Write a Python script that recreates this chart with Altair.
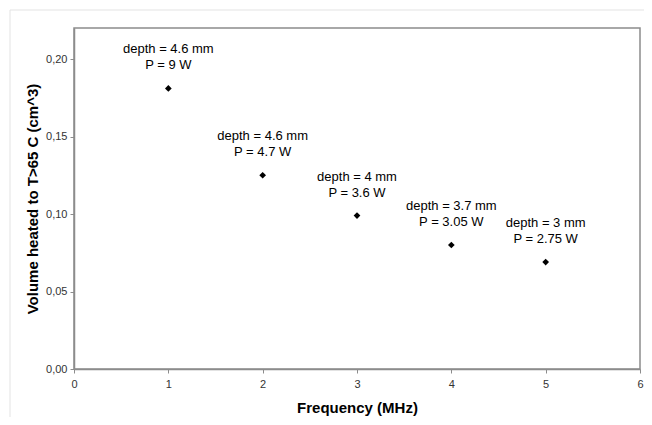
import altair as alt
import pandas as pd

freq = [1, 2, 3, 4, 5]
volume = [0.181, 0.125, 0.099, 0.080, 0.069]
depth_labels = ["depth = 4.6 mm", "depth = 4.6 mm", "depth = 4 mm", "depth = 3.7 mm", "depth = 3 mm"]
power_labels = ["P = 9 W", "P = 4.7 W", "P = 3.6 W", "P = 3.05 W", "P = 2.75 W"]

df = pd.DataFrame({"freq": freq, "volume": volume, "depth": depth_labels, "power": power_labels})

FONT = "Liberation Sans"
GRAY = "#8c8c8c"

x_enc = alt.X("freq:Q", scale=alt.Scale(domain=[0, 6], nice=False),
              axis=alt.Axis(title="Frequency (MHz)", values=[0, 1, 2, 3, 4, 5, 6], format="d",
                            labelFlush=False))
y_enc = alt.Y("volume:Q", scale=alt.Scale(domain=[0, 0.22], nice=False),
              axis=alt.Axis(title="Volume heated to T>65 C (cm^3)", values=[0, 0.05, 0.1, 0.15, 0.2],
                            labelExpr="replace(format(datum.value, '.2f'), '.', ',')"))

base = alt.Chart(df)

points = base.mark_point(shape="diamond", filled=True, color="black", size=45, opacity=1).encode(
    x=x_enc, y=y_enc
)

line1 = base.mark_text(font=FONT, fontSize=13, color="black", dy=-39, baseline="middle").encode(
    x="freq:Q", y="volume:Q", text="depth:N"
)
line2 = base.mark_text(font=FONT, fontSize=13, color="black", dy=-23, baseline="middle").encode(
    x="freq:Q", y="volume:Q", text="power:N"
)

# light outer frame of the figure
frame_top = alt.Chart(pd.DataFrame({"k": [0]})).mark_rule(color="#e3e3e3", strokeWidth=1, clip=False).encode(
    x=alt.value(-64), x2=alt.value(570), y=alt.value(-18)
)
frame_left = alt.Chart(pd.DataFrame({"k": [0]})).mark_rule(color="#e3e3e3", strokeWidth=1, clip=False).encode(
    x=alt.value(-64), y=alt.value(-18), y2=alt.value(389)
)

chart = alt.layer(frame_top, frame_left, points, line1, line2).properties(
    width=566, height=341,
    autosize=alt.AutoSizeParams(type="none"),
    padding={"left": 66, "top": 20, "right": 4, "bottom": 48},
).configure_view(
    stroke=GRAY, strokeWidth=1.5
).configure_axis(
    grid=False,
    domainColor=GRAY, domainWidth=1.5,
    tickColor=GRAY, tickSize=4, tickWidth=1,
    labelFont=FONT, labelFontSize=11, labelColor="#333333",
    titleFont=FONT, titleFontSize=15, titleFontWeight="bold", titleColor="black",
).configure_axisX(
    labelPadding=5, titlePadding=11
).configure_axisY(
    labelPadding=3, titlePadding=5
)

chart.save("out.html", embed_options={"renderer": "svg", "actions": False})
